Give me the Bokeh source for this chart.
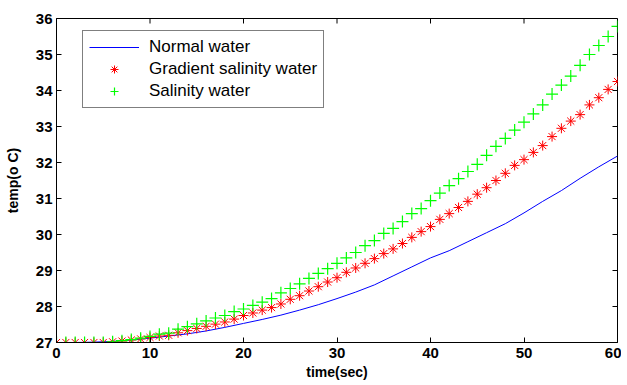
import math
from bokeh.plotting import figure
from bokeh.models import Range1d, FixedTicker, Legend, LegendItem
from bokeh.embed import file_html
from bokeh.resources import INLINE

# ---- data ----
time_sec = [0, 1, 2, 3, 4, 5, 6, 7, 8, 9, 10, 11, 12, 13, 14, 15, 16, 17, 18, 19, 20,
            21, 22, 23, 24, 25, 26, 27, 28, 29, 30, 31, 32, 33, 34, 35, 36, 37, 38, 39, 40,
            41, 42, 43, 44, 45, 46, 47, 48, 49, 50, 51, 52, 53, 54, 55, 56, 57, 58, 59, 60]

gradient_salinity = [27.0, 27.0, 27.0, 27.0, 27.0, 27.0, 27.02, 27.04, 27.07, 27.1, 27.14,
                     27.18, 27.2, 27.27, 27.33, 27.39, 27.45, 27.51, 27.57, 27.65, 27.75,
                     27.82, 27.9, 27.97, 28.07, 28.2, 28.3, 28.43, 28.55, 28.68, 28.8,
                     28.95, 29.07, 29.2, 29.33, 29.47, 29.6, 29.75, 29.92, 30.08, 30.22,
                     30.42, 30.58, 30.75, 30.92, 31.12, 31.3, 31.5, 31.7, 31.92, 32.08,
                     32.28, 32.47, 32.72, 32.95, 33.15, 33.33, 33.6, 33.8, 34.03, 34.25]

salinity = [27.0, 27.0, 27.0, 27.0, 27.0, 27.0, 27.02, 27.05, 27.08, 27.12, 27.17,
            27.23, 27.26, 27.37, 27.44, 27.52, 27.6, 27.68, 27.75, 27.86, 27.93,
            28.03, 28.12, 28.22, 28.38, 28.5, 28.63, 28.78, 28.92, 29.05, 29.2,
            29.35, 29.5, 29.69, 29.83, 30.03, 30.17, 30.36, 30.58, 30.72, 30.94,
            31.15, 31.36, 31.55, 31.75, 31.95, 32.2, 32.45, 32.67, 32.9, 33.12,
            33.35, 33.6, 33.9, 34.15, 34.4, 34.7, 35.0, 35.25, 35.5, 35.78]

normal_time = [0, 2, 4, 6, 8, 10, 12, 14, 16, 18, 20, 22, 24, 26, 28, 30, 32, 34, 36, 38,
               40, 42, 44, 46, 48, 50, 52, 54, 56, 58, 60]
normal_water = [27.0, 27.0, 27.01, 27.03, 27.07, 27.12, 27.18, 27.24, 27.32, 27.42, 27.53,
                27.64, 27.76, 27.9, 28.05, 28.22, 28.4, 28.6, 28.85, 29.1, 29.35,
                29.55, 29.8, 30.05, 30.3, 30.6, 30.92, 31.22, 31.56, 31.88, 32.18]

x_ticks = [0, 10, 20, 30, 40, 50, 60]
y_ticks = [27, 28, 29, 30, 31, 32, 33, 34, 35, 36]
x_min, x_max = 0, 60
y_min, y_max = 27, 36

FONT = "Liberation Sans"

p = figure(width=621, height=384, output_backend="svg", toolbar_location=None,
           x_range=Range1d(x_min, x_max), y_range=Range1d(y_min, y_max),
           min_border_left=56, min_border_top=18, min_border_right=4, min_border_bottom=42)
p.xgrid.visible = False
p.ygrid.visible = False
p.outline_line_color = "black"
p.outline_line_width = 1
p.background_fill_color = "white"
p.border_fill_color = "white"

def style_axis(ax, ticks):
    ax.ticker = FixedTicker(ticks=ticks)
    ax.minor_tick_line_color = None
    ax.major_tick_in = 5
    ax.major_tick_out = 0
    ax.axis_line_color = "black"
    ax.major_tick_line_color = "black"
    ax.major_label_text_font = FONT
    ax.major_label_text_font_style = "bold"
    ax.major_label_text_font_size = "15px"
    ax.major_label_text_color = "black"
    ax.axis_label_text_font = FONT
    ax.axis_label_text_font_style = "bold"
    ax.axis_label_text_font_size = "14px"
    ax.axis_label_text_color = "black"

xa = p.xaxis[0]
ya = p.yaxis[0]
style_axis(xa, x_ticks)
style_axis(ya, y_ticks)
xa.axis_label = "time(sec)"
ya.axis_label = "temp(o C)"
xa.major_label_standoff = 5
ya.major_label_standoff = 4
xa.axis_label_standoff = 3
ya.axis_label_standoff = 12

# mirrored inward ticks on top and right edges (MATLAB box style)
p.ray(x=x_ticks, y=[y_max] * len(x_ticks), length=5, length_units="screen",
      angle=-math.pi / 2, line_color="black", line_width=1)
p.ray(x=[x_max] * len(y_ticks), y=y_ticks, length=5, length_units="screen",
      angle=math.pi, line_color="black", line_width=1)

r_normal = p.line(normal_time, normal_water, line_color="#0000ff", line_width=1)
r_grad = p.scatter(time_sec, gradient_salinity, marker="asterisk", size=10,
                   line_color="#ff0000", line_width=1)
r_sal = p.scatter(time_sec, salinity, marker="cross", size=12,
                  line_color="#00ff00", line_width=1.2)

legend = Legend(items=[
    LegendItem(label="Normal water", renderers=[r_normal]),
    LegendItem(label="Gradient salinity water", renderers=[r_grad]),
    LegendItem(label="Salinity water", renderers=[r_sal]),
], location=(26, 234))
legend.label_text_font = FONT
legend.label_text_font_size = "17px"
legend.label_text_color = "black"
legend.glyph_width = 50
legend.glyph_height = 20
legend.label_height = 20
legend.label_standoff = 10
legend.spacing = 2
legend.padding = 6
legend.margin = 0
legend.border_line_color = "black"
legend.border_line_width = 1
legend.background_fill_color = "white"
legend.background_fill_alpha = 1
p.add_layout(legend)

open("out.html", "w").write(file_html(p, INLINE))
